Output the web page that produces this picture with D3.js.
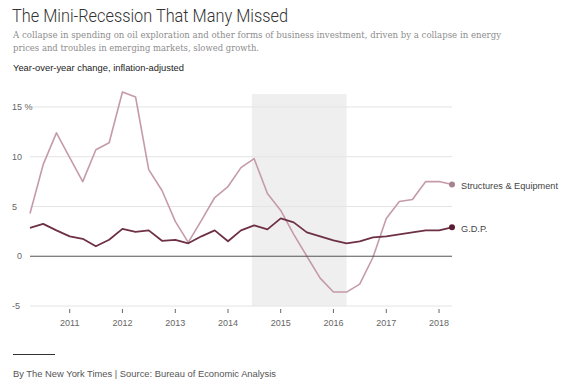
<!DOCTYPE html>
<html>
<head>
<meta charset="utf-8">
<script src="https://cdn.jsdelivr.net/npm/d3@7"></script>
<style>
  html, body { margin: 0; padding: 0; background: #fff; }
  svg { display: block; }
</style>
</head>
<body>
<div id="chart"></div>
<script>
// ---- Data -------------------------------------------------------
// Quarterly, year-over-year change (%), inflation-adjusted
const QUARTERS = [
  '2010-04-01', '2010-07-01', '2010-10-01',
  '2011-01-01', '2011-04-01', '2011-07-01', '2011-10-01',
  '2012-01-01', '2012-04-01', '2012-07-01', '2012-10-01',
  '2013-01-01', '2013-04-01', '2013-07-01', '2013-10-01',
  '2014-01-01', '2014-04-01', '2014-07-01', '2014-10-01',
  '2015-01-01', '2015-04-01', '2015-07-01', '2015-10-01',
  '2016-01-01', '2016-04-01', '2016-07-01', '2016-10-01',
  '2017-01-01', '2017-04-01', '2017-07-01', '2017-10-01',
  '2018-01-01', '2018-04-01'
];

const STRUCTURES = [
  4.3, 9.2, 12.4,
  9.9, 7.5, 10.7, 11.4,
  16.5, 16.0, 8.7, 6.6,
  3.5, 1.4, 3.6, 5.9,
  7.0, 8.9, 9.8, 6.3,
  4.6, 2.2, 0.0, -2.2,
  -3.6, -3.6, -2.8, -0.1,
  3.8, 5.5, 5.7, 7.5,
  7.5, 7.2
];

const GDP = [
  2.85, 3.25, 2.6,
  2.0, 1.75, 1.0, 1.65,
  2.75, 2.45, 2.6, 1.55,
  1.65, 1.3, 2.0, 2.6,
  1.5, 2.6, 3.1, 2.7,
  3.8, 3.4, 2.4, 2.0,
  1.6, 1.3, 1.5, 1.9,
  2.0, 2.2, 2.4, 2.6,
  2.6, 2.9
];

const Y_TICKS = [-5, 0, 5, 10, 15];
const X_TICKS = ['2011', '2012', '2013', '2014', '2015', '2016', '2017', '2018'];
const SHADE = ['2014-06-15', '2016-04-01'];

const SERIES = [
  { name: 'Structures & Equipment', values: STRUCTURES, line: '#c59ba8', dot: '#a9828f', width: 1.6 },
  { name: 'G.D.P.',                 values: GDP,        line: '#6d3045', dot: '#5a1d32', width: 1.8 }
];

// ---- Layout -----------------------------------------------------
const W = 587, H = 388;
const parse = d3.timeParse('%Y-%m-%d');
const dates = QUARTERS.map(parse);

const svg = d3.select('#chart').append('svg')
  .attr('width', W).attr('height', H)
  .attr('viewBox', `0 0 ${W} ${H}`);

const x = d3.scaleTime()
  .domain(d3.extent(dates))
  .range([30, 452]);

const y = d3.scaleLinear()
  .domain([-5, 16.3])
  .range([306, 94]);

const SANS = "'Liberation Sans', Arial, sans-serif";
const SERIF = "'DejaVu Serif', Georgia, serif";

// ---- Header -----------------------------------------------------
svg.append('text')
  .attr('x', 12).attr('y', 22)
  .attr('font-family', "Roboto, 'Liberation Sans', sans-serif")
  .attr('font-weight', 300)
  .attr('font-size', 17.5)
  .attr('fill', '#333')
  .attr('textLength', 276).attr('lengthAdjust', 'spacingAndGlyphs')
  .text('The Mini-Recession That Many Missed');

const sub = [
  'A collapse in spending on oil exploration and other forms of business investment, driven by a collapse in energy',
  'prices and troubles in emerging markets, slowed growth.'
];
const subLen = [488, 246];
sub.forEach((s, i) => {
  svg.append('text')
    .attr('x', 13).attr('y', 38 + i * 13)
    .attr('font-family', SERIF)
    .attr('font-size', 9.6)
    .attr('fill', '#8d8d8d')
    .attr('textLength', subLen[i]).attr('lengthAdjust', 'spacingAndGlyphs')
    .text(s);
});

svg.append('text')
  .attr('x', 13).attr('y', 71)
  .attr('font-family', SANS)
  .attr('font-size', 9.4)
  .attr('fill', '#222')
  .attr('textLength', 171).attr('lengthAdjust', 'spacingAndGlyphs')
  .text('Year-over-year change, inflation-adjusted');

// ---- Shaded period ----------------------------------------------
svg.append('rect')
  .attr('x', x(parse(SHADE[0])))
  .attr('y', y.range()[1])
  .attr('width', x(parse(SHADE[1])) - x(parse(SHADE[0])))
  .attr('height', y(-5) - y.range()[1])
  .attr('fill', '#efefef');

// ---- Gridlines + y labels ---------------------------------------
const grid = svg.append('g');
grid.selectAll('line')
  .data(Y_TICKS.filter(d => d !== 0))
  .join('line')
  .attr('x1', x.range()[0]).attr('x2', x.range()[1])
  .attr('y1', d => y(d)).attr('y2', d => y(d))
  .attr('stroke', '#e4e4e4')
  .attr('stroke-width', 1);

grid.selectAll('text')
  .data(Y_TICKS)
  .join('text')
  .attr('x', d => d === 0 ? 17 : 12)
  .attr('y', d => y(d))
  .attr('dy', '0.35em')
  .attr('font-family', SANS)
  .attr('font-size', 9)
  .attr('fill', '#666')
  .text(d => d === 15 ? '15 %' : d);

// ---- X axis ticks -----------------------------------------------
const xt = svg.append('g');
X_TICKS.forEach(t => {
  const px = x(parse(t + '-01-01'));
  xt.append('line')
    .attr('x1', px).attr('x2', px)
    .attr('y1', 309).attr('y2', 313)
    .attr('stroke', '#666').attr('stroke-width', 1);
  xt.append('text')
    .attr('x', px).attr('y', 326)
    .attr('text-anchor', 'middle')
    .attr('font-family', SANS)
    .attr('font-size', 9)
    .attr('fill', '#666')
    .text(t);
});

// ---- Lines ------------------------------------------------------
const line = d3.line()
  .x((d, i) => x(dates[i]))
  .y(d => y(d));

SERIES.forEach(s => {
  svg.append('path')
    .attr('d', line(s.values))
    .attr('fill', 'none')
    .attr('stroke', s.line)
    .attr('stroke-width', s.width)
    .attr('stroke-linejoin', 'round');
});

// zero line on top
svg.append('line')
  .attr('x1', x.range()[0]).attr('x2', x.range()[1])
  .attr('y1', y(0)).attr('y2', y(0))
  .attr('stroke', '#555').attr('stroke-width', 1);

// end dots + labels
SERIES.forEach(s => {
  const last = s.values.length - 1;
  const px = x(dates[last]), py = y(s.values[last]);
  svg.append('circle')
    .attr('cx', px).attr('cy', py).attr('r', 3)
    .attr('fill', s.dot);
  svg.append('text')
    .attr('x', px + 9).attr('y', py)
    .attr('dy', '0.45em')
    .attr('font-family', SANS)
    .attr('font-size', 9.2)
    .attr('fill', '#444')
    .text(s.name);
});

// ---- Footer -----------------------------------------------------
svg.append('line')
  .attr('x1', 13).attr('x2', 55)
  .attr('y1', 354.5).attr('y2', 354.5)
  .attr('stroke', '#333').attr('stroke-width', 1);

svg.append('text')
  .attr('x', 13).attr('y', 377)
  .attr('font-family', SANS)
  .attr('font-size', 9.2)
  .attr('fill', '#555')
  .attr('textLength', 263).attr('lengthAdjust', 'spacingAndGlyphs')
  .text('By The New York Times | Source: Bureau of Economic Analysis');
</script>
</body>
</html>
